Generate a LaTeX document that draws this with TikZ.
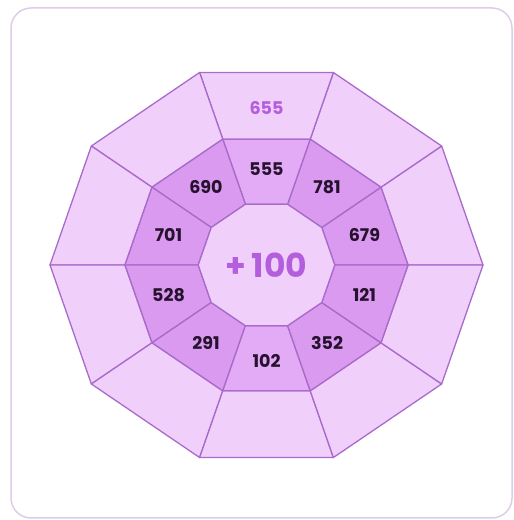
\documentclass[tikz,border=0pt]{standalone}
\usepackage{fontspec}
\setmainfont{Poppins}
\usetikzlibrary{calc}
\definecolor{ringout}{HTML}{F1CFFB}
\definecolor{ringmid}{HTML}{D99AF0}
\definecolor{ringlt}{HTML}{E3ABF5}
\definecolor{edgeline}{HTML}{A96BCA}
\definecolor{numtxt}{HTML}{26122E}
\definecolor{accent}{HTML}{B35EDD}
\definecolor{framecol}{HTML}{DCCDE8}

\begin{document}
\begin{tikzpicture}[x=1pt,y=1pt,
  cell/.style={draw=edgeline, line width=1.3pt, line join=round},
  num/.style={font=\fontsize{17.5}{17.5}\selectfont\bfseries, text=numtxt},
  big/.style={font=\fontsize{33}{33}\selectfont\bfseries, text=accent},
]
\useasboundingbox (0,0) rectangle (514,520);
% --- frame
\draw[framecol, line width=1.5pt, rounded corners=20pt] (11,2) rectangle (512,512);

\coordinate (c) at (266.5,255);
\begin{scope}[shift={(c)}, yscale=0.935]
% --- outer ring
\foreach \i in {0,...,9} {
  \pgfmathsetmacro\a{36*\i}
  \pgfmathsetmacro\b{36*\i+36}
  \filldraw[cell, fill=ringout] (\a:216.5) -- (\b:216.5) -- (\b:141.5) -- (\a:141.5) -- cycle;
}
% --- middle ring
\foreach \lab/\col [count=\i from 0] in {679/ringmid,781/ringmid,555/ringlt,690/ringmid,701/ringmid,528/ringmid,291/ringmid,102/ringlt,352/ringmid,121/ringmid} {
  \pgfmathsetmacro\a{36*\i}
  \pgfmathsetmacro\b{36*\i+36}
  \pgfmathsetmacro\m{36*\i+18}
  \filldraw[cell, fill=\col] (\a:141.5) -- (\b:141.5) -- (\b:68.3) -- (\a:68.3) -- cycle;
  \node[num] (n\lab) at (\m:103) {\lab};
}
% --- centre
\filldraw[cell, fill=ringout] (0:68.3) \foreach \i in {1,...,9} { -- (36*\i:68.3) } -- cycle;
\node[num, text=accent] (top) at (90:168) {655};
\end{scope}
\node[big] (add) at (c) {+\hspace{5pt}100};
\end{tikzpicture}
\end{document}
